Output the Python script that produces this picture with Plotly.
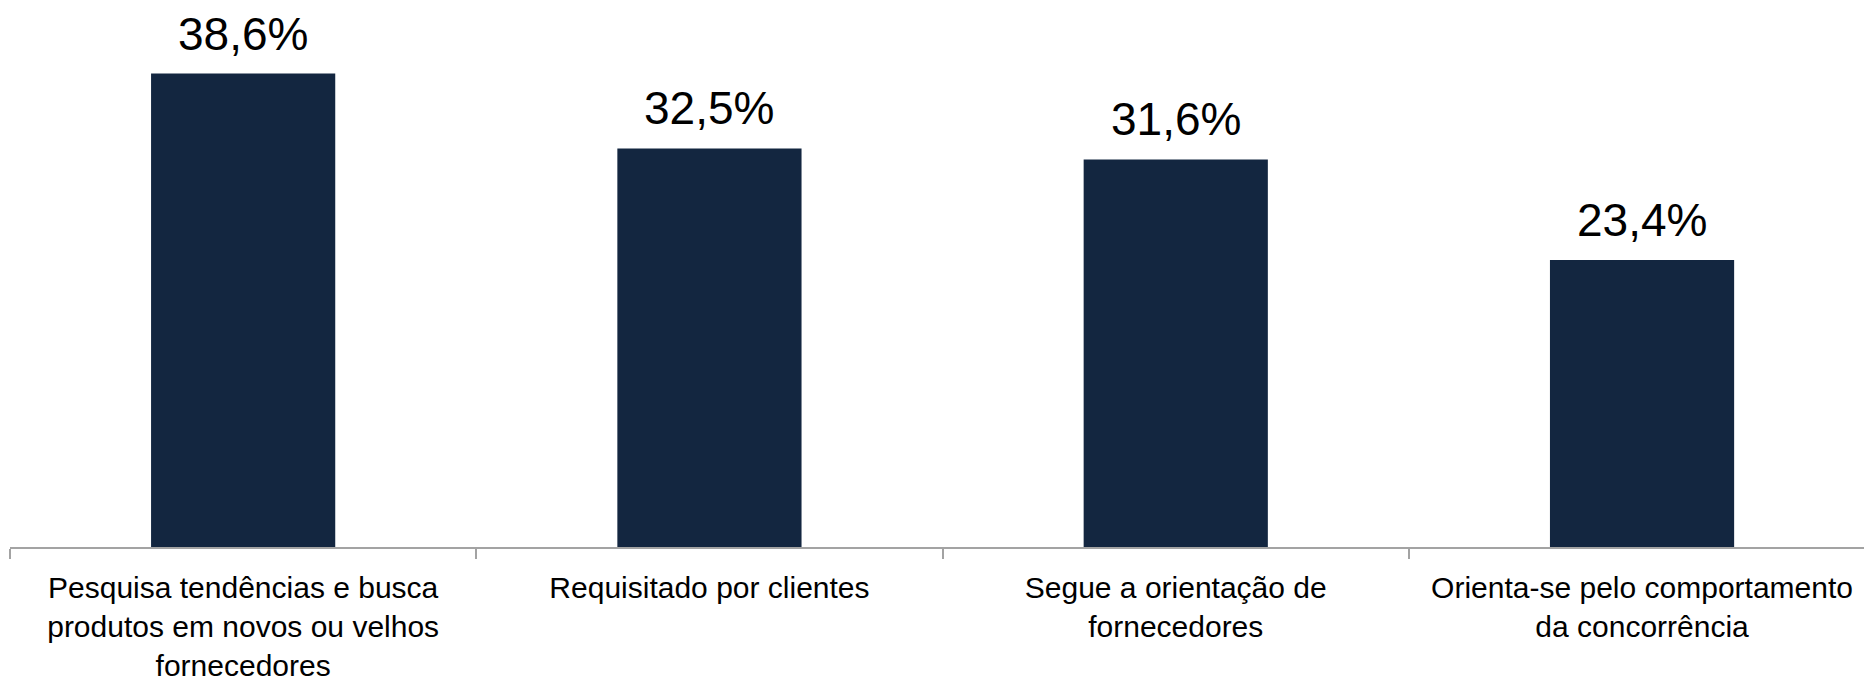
import plotly.graph_objects as go
from plotly.graph_objects import Figure, Bar

# data
CATEGORIES :list[str] = [
    "Pesquisa tendências e busca<br>produtos em novos ou velhos<br>fornecedores",
    "Requisitado por clientes",
    "Segue a orientação de<br>fornecedores",
    "Orienta-se pelo comportamento<br>da concorrência",
]
VALUES :list[float] = [38.6, 32.5, 31.6, 23.4]
VALUE_LABELS :list[str] = ["38,6%", "32,5%", "31,6%", "23,4%"]

# graph constants
BAR_COLOR :str = "#132640"
AXIS_COLOR :str = "#a3a3a3"
FONT_FAMILY :str = "Liberation Sans, Arial, sans-serif"
VALUE_FONT_SIZE :int = 46
TICK_FONT_SIZE :int = 30
BAR_WIDTH :float = 0.395

FIG_WIDTH :int = 1864
FIG_HEIGHT :int = 680
FIGURE_MARGIN :dict[str, int] = dict(l=10, r=0, t=0, b=133)
X_RANGE :list[float] = [-0.5, 3.476]  # last category runs past the right edge
Y_RANGE :list[float] = [0, 44.6]

# drop the page's default body margin so the fixed-size figure fills the window
PAGE_SCRIPT :str = "document.body.style.margin='0';document.body.style.overflow='hidden';"


figure :Figure = go.Figure()

bar :Bar = go.Bar(
    x=CATEGORIES,
    y=VALUES,
    width=BAR_WIDTH,
    marker_color=BAR_COLOR,
    marker_line_width=0,
    hoverinfo="skip",
)
figure.add_trace(bar)

# value labels sit a little above each bar
for category, value, label in zip(CATEGORIES, VALUES, VALUE_LABELS):
    figure.add_annotation(
        x=category,
        y=value,
        text=label,
        showarrow=False,
        yanchor="bottom",
        yshift=12,
        font=dict(size=VALUE_FONT_SIZE, color="#000000", family=FONT_FAMILY),
    )

figure.update_layout(
    width=FIG_WIDTH,
    height=FIG_HEIGHT,
    margin=FIGURE_MARGIN,
    plot_bgcolor="white",
    paper_bgcolor="white",
    showlegend=False,
    font=dict(family=FONT_FAMILY, color="#000000"),
    xaxis=dict(
        type="category",
        range=X_RANGE,
        automargin=False,
        tickson="boundaries",
        ticks="outside",
        ticklen=10,
        tickwidth=1.5,
        tickcolor=AXIS_COLOR,
        showline=True,
        linecolor=AXIS_COLOR,
        linewidth=1.5,
        showgrid=False,
        zeroline=False,
        tickfont=dict(size=TICK_FONT_SIZE, color="#000000"),
        ticklabelstandoff=13,
    ),
    yaxis=dict(
        range=Y_RANGE,
        visible=False,
        automargin=False,
        showgrid=False,
        zeroline=False,
    ),
)

figure.write_html("out.html", post_script=PAGE_SCRIPT, config={"displayModeBar": False})
